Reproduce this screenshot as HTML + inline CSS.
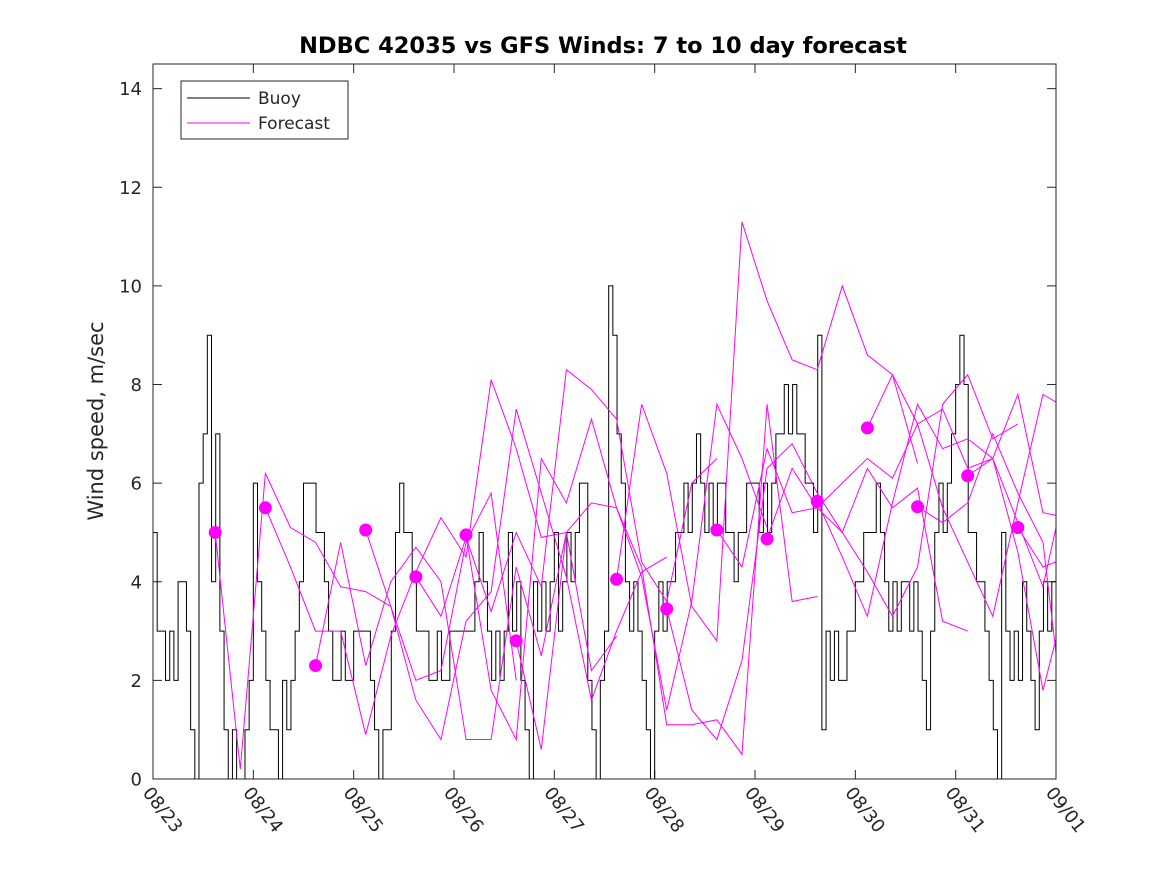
<!DOCTYPE html>
<html><head><meta charset="utf-8"><style>
body{margin:0;background:#fff}
svg{display:block;font-family:"DejaVu Sans","Liberation Sans",sans-serif}
</style></head><body>
<svg id="chart" width="1167" height="875" xmlns="http://www.w3.org/2000/svg">
<rect width="1167" height="875" fill="#fff"/>
<defs><clipPath id="clip"><rect x="153" y="64" width="903" height="715"/></clipPath></defs>
<text x="603" y="53" text-anchor="middle" font-size="22.5" font-weight="bold">NDBC 42035 vs GFS Winds: 7 to 10 day forecast</text>
<text transform="translate(103,421) rotate(-90)" text-anchor="middle" font-size="21" fill="#262626">Wind speed, m/sec</text>
<g id="axes"></g>
<g id="buoy" clip-path="url(#clip)"></g>
<g id="fc" clip-path="url(#clip)"></g>
<g id="dots"></g>
<rect x="153" y="64" width="903" height="715" fill="none" stroke="#262626" stroke-width="1"/>
<g>
<rect x="181" y="81" width="167" height="58" fill="#fff" stroke="#262626"/>
<line x1="187" y1="98" x2="250" y2="98" stroke="#000"/>
<text x="258" y="104" font-size="17" fill="#262626">Buoy</text>
<line x1="187" y1="123" x2="250" y2="123" stroke="#f0f"/>
<text x="258" y="129" font-size="17" fill="#262626">Forecast</text>
</g>
</svg>
<script>
const xTickLabels=["08/23","08/24","08/25","08/26","08/27","08/28","08/29","08/30","08/31","09/01"];
const yTicks=[0,2,4,6,8,10,12,14];
const buoyStart=0; // days from 08/23, hourly
const buoy=[5,3,3,2,3,2,4,4,3,1,0,6,7,9,4,7,3,1,0,1,0,0,1,2,6,4,3,2,1,1,0,2,1,2,3,4,6,6,6,5,5,4,3,2,2,3,2,2,3,3,3,3,2,1,0,1,1,3,5,6,5,5,4,3,3,3,2,2,3,2,2,3,3,3,
3,3,3,4,5,4,3,2,3,2,3,5,3,4,2,1,0,4,3,4,3,4,5,3,4,5,4,5,6,6,2,1,0,2,3,10,9,7,6,4,3,4,3,2,1,0,3,4,3,4,4,5,5,6,5,6,7,6,5,6,5,6,6,5,5,4,5,5,6,6,6,5,6,5,6,7,7,8,7,8,7,7,6,6,5,9,1,3,2,3,2,2,3,3,4,4,5,5,5,6,5,4,3,4,3,4,4,3,4,3,2,1,3,5,6,5,6,7,8,9,8,5,5,4,4,3,2,1,0,5,3,2,3,2,4,3,2,1,3,4,3,4,4];
const fcStarts=[0.62,1.12,1.62,2.12,2.62,3.12,3.62,4.62,5.12,5.62,6.12,6.62,7.12,7.62,8.12,8.62];
const fcA=[5.0,0.2,6.2,5.1,4.8,3.9,3.8,3.5,2.0,2.2,4.8,5.8,2.0];
const fcB=[5.5,4.3,3.0,3.0,0.9,2.9,4.2,5.3,4.5,8.1,6.7,4.9,5.0];
const fcC=[2.3,4.8,2.3,4.0,4.7,4.0,0.8,0.8,4.3,2.5,5.0,2.2,2.9];
const fcD=[5.05,3.5,1.6,0.8,3.2,3.8,7.5,5.8,4.1,1.6,3.0,4.2,4.5];
const fcE=[4.1,3.3,4.9,3.4,5.0,3.9,8.3,7.9,7.3,4.4,3.6,6.0,6.5];
const fcF=[4.95,1.8,0.8,6.5,5.6,7.3,5.5,4.1,1.4,3.6,7.6,6.5,5.1];
const fcG=[2.8,0.6,5.0,5.6,5.5,4.3,1.1,1.1,1.2,0.5,7.6,3.6,3.7];
const fcH=[4.05,7.6,6.2,3.5,2.8,11.3,9.7,8.5,8.3,10.0,8.6,8.2,6.4];
const fcI=[3.45,1.4,0.8,2.4,6.3,6.8,5.8,5.0,6.3,5.5,5.9,3.2,3.0];
const fcJ=[5.05,4.3,6.7,5.4,5.5,5.0,4.2,3.3,4.3,7.6,8.2,6.9,7.2];
const fcK=[4.87,6.3,5.5,6.0,6.5,6.1,7.2,7.5,6.3,6.5,7.8,5.4,5.3];
const fcL=[5.63,4.5,3.3,5.6,7.6,6.7,6.9,6.5,5.2,3.9,6.2,8.7,7.6];
const fcM=[7.12,8.2,7.2,5.5,4.4,3.3,5.6,7.8,7.5,5.0,3.4,4.5,5.6];
const fcN=[5.52,5.2,5.6,7.0,5.8,4.8,0.5,2.8,4.4,4.6];
const fcO=[6.15,6.5,4.6,1.8,3.8,4.3];
const fcP=[5.1,4.3,4.5];
const fcSeries=[fcA,fcB,fcC,fcD,fcE,fcF,fcG,fcH,fcI,fcJ,fcK,fcL,fcM,fcN,fcO,fcP];
const NS="http://www.w3.org/2000/svg";
const X0=153,X1=1056,Y0=779,Y1=64,DAYS=9,YMAX=14.5;
function xs(d){return X0+(X1-X0)*d/DAYS;}
function ys(v){return Y0-(Y0-Y1)*v/YMAX;}
function mk(t,a,p){const e=document.createElementNS(NS,t);for(const k in a)e.setAttribute(k,a[k]);p.appendChild(e);return e;}
const axes=document.getElementById('axes');
yTicks.forEach(v=>{
 const g=mk('g',{},axes);
 
 
 mk('line',{x1:X0,x2:X0+9,y1:ys(v),y2:ys(v),stroke:'#262626'},g);
 mk('line',{x1:X1,x2:X1-9,y1:ys(v),y2:ys(v),stroke:'#262626'},g);
 const t=mk('text',{x:X0-11,y:ys(v)+6.5,'text-anchor':'end','font-size':18,fill:'#262626'},g);t.textContent=v;
});
xTickLabels.forEach((lab,i)=>{
 const g=mk('g',{},axes);
 
 
 const x=xs(i);
 mk('line',{x1:x,x2:x,y1:Y0,y2:Y0-9,stroke:'#262626'},g);
 mk('line',{x1:x,x2:x,y1:Y1,y2:Y1+9,stroke:'#262626'},g);
 const t=mk('text',{transform:`translate(${x-11},${Y0+14}) rotate(52)`,'font-size':18,fill:'#262626'},g);t.textContent=lab;
});
let d='';
buoy.forEach((v,i)=>{const x=xs(buoyStart+i/24),y=ys(v);if(i===0)d+=`M${x},${y}`;else d+=`H${x}V${y}`;});
const bp=mk('path',{d:d,fill:'none',stroke:'#000','stroke-width':1},document.getElementById('buoy'));


const fcg=document.getElementById('fc'),dg=document.getElementById('dots');
fcSeries.forEach((s,k)=>{
 const pts=s.map((v,i)=>xs(fcStarts[k]+i*0.25)+','+ys(v)).join(' ');
 const pl=mk('polyline',{points:pts,fill:'none',stroke:'#f0f','stroke-width':1},fcg);
 
 
 const c=mk('circle',{cx:xs(fcStarts[k]),cy:ys(s[0]),r:6.5,fill:'#f0f'},dg);
 
 
});
</script>
</body></html>
